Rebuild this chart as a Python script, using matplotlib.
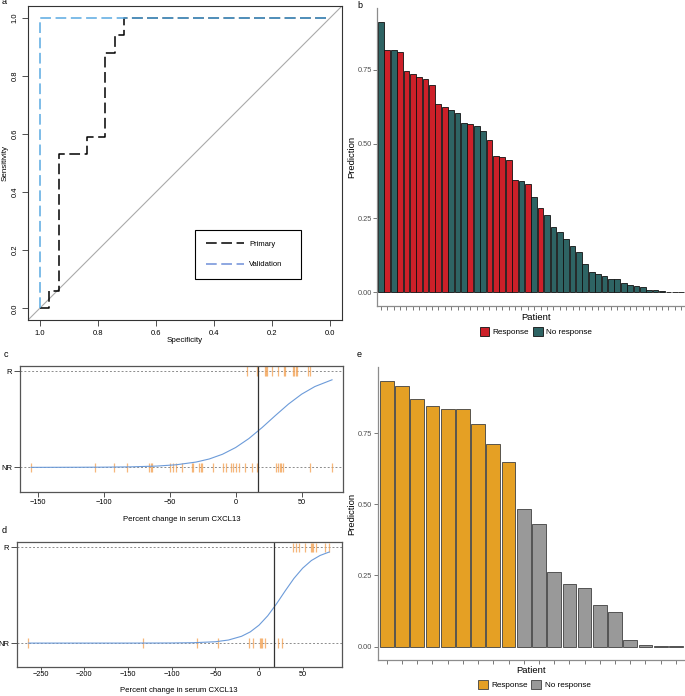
import numpy as np
import matplotlib
matplotlib.use("Agg")
import matplotlib.pyplot as plt
from matplotlib.lines import Line2D
from matplotlib.patches import Patch

plt.rcParams['font.family'] = ['Liberation Sans', 'DejaVu Sans']

# ---- panel a: ROC (specificity, sensitivity) ----
PRIMARY_SPEC = [1.0, 0.968, 0.935, 0.838, 0.774, 0.742, 0.709, 0.0]
PRIMARY_SENS = [0.0, 0.06, 0.53, 0.59, 0.88, 0.94, 1.0, 1.0]
VALID_SPEC = [1.0, 1.0, 0.0]
VALID_SENS = [0.0, 1.0, 1.0]

# ---- panel b: predictions, primary cohort (1 = response) ----
B_PRED = [0.912, 0.817, 0.815, 0.808, 0.747, 0.734, 0.727, 0.718, 0.698, 0.634,
          0.625, 0.615, 0.604, 0.571, 0.568, 0.562, 0.545, 0.513, 0.460, 0.456,
          0.447, 0.378, 0.374, 0.366, 0.322, 0.283, 0.262, 0.222, 0.203, 0.180,
          0.156, 0.137, 0.096, 0.069, 0.063, 0.057, 0.047, 0.044, 0.032, 0.026,
          0.023, 0.019, 0.010, 0.009, 0.005, 0.003, 0.002, 0.001]
B_RESP = [0, 1, 0, 1, 1, 1, 1, 1, 1, 1,
          1, 0, 0, 0, 1, 0, 0, 1, 1, 1,
          1, 1, 0, 1, 0, 1, 0, 0, 0, 0,
          0, 0, 0, 0, 0, 0, 0, 0, 0, 0,
          0, 0, 0, 0, 0, 0, 0, 0]

# ---- panel c: percent change, primary cohort ----
C_R = [8.8, 16.2, 22.5, 23.2, 24.0, 27.8, 32.1, 36.9, 37.4, 43.2, 44.5, 45.7, 46.7, 55.1, 56.1]
C_NR = [-155.3, -106.3, -92.2, -82.1, -65.4, -64.4, -63.4, -50.0, -47.5, -45.0, -40.4,
        -33.1, -32.3, -27.8, -26.5, -25.3, -17.2, -9.6, -7.1, -3.8, -2.0, 0.5, 2.5,
        6.8, 12.4, 16.4, 30.8, 32.1, 33.3, 34.6, 35.9, 56.1, 73.2]
C_FIT_X = [-155, -120, -100, -80, -60, -45, -30, -20, -10, 0, 10, 20, 30, 40, 50, 60, 73]
C_FIT_P = [0.000, 0.001, 0.002, 0.005, 0.013, 0.027, 0.055, 0.087, 0.136, 0.206,
           0.299, 0.413, 0.537, 0.657, 0.760, 0.839, 0.909]
C_CUT = 17

# ---- panel d: percent change, validation cohort ----
D_R = [39.3, 42.0, 45.8, 53.0, 59.2, 60.3, 61.5, 65.3, 75.6, 80.2]
D_NR = [-264.1, -133.2, -70.6, -46.6, -11.1, -6.5, 1.1, 2.3, 3.4, 6.9, 22.1, 26.0]
D_FIT_X = [-264, -200, -150, -100, -75, -50, -35, -20, -10, 0, 10, 20, 30, 40, 50, 60, 70, 80.5]
D_FIT_P = [0.000, 0.000, 0.000, 0.001, 0.004, 0.014, 0.032, 0.071, 0.117, 0.187,
           0.285, 0.409, 0.545, 0.675, 0.782, 0.862, 0.915, 0.951]
D_CUT = 17

# ---- panel e: predictions, validation cohort ----
E_PRED = [0.934, 0.916, 0.870, 0.845, 0.836, 0.836, 0.781, 0.712, 0.649, 0.483,
          0.431, 0.261, 0.221, 0.207, 0.148, 0.122, 0.022, 0.007, 0.002, 0.001]
E_RESP = [1, 1, 1, 1, 1, 1, 1, 1, 1, 0,
          0, 0, 0, 0, 0, 0, 0, 0, 0, 0]

fig = plt.figure(figsize=(6.85, 6.96), dpi=100)

# ================= a =================
ax = fig.add_axes([0.0409, 0.5402, 0.4584, 0.4512])
ax.axline((1, 0), (0, 1), color='#AAAAAA', lw=0.8)
ax.plot(PRIMARY_SPEC, PRIMARY_SENS, drawstyle='steps-post', color='black', lw=1.1, dashes=(7, 3))
ax.plot(VALID_SPEC, VALID_SENS, color='#5AAAE2', lw=1.1, dashes=(7, 3))
ax.set_xlim(1.04, -0.04)
ax.set_ylim(-0.04, 1.04)
ticks = [0.0, 0.2, 0.4, 0.6, 0.8, 1.0]
ax.set_xticks(ticks)
ax.set_xticklabels([f"{t:.1f}" for t in ticks])
ax.set_yticks(ticks)
ax.set_yticklabels([f"{t:.1f}" for t in ticks], rotation=90, va='center')
ax.tick_params(length=4, width=0.6, labelsize=5.5, pad=3, color='#333333')
for s in ax.spines.values():
    s.set_color('#333333')
    s.set_linewidth(0.8)
ax.set_xlabel('Specificity', fontsize=5.8)
ax.xaxis.set_label_coords(0.5, -0.055)
ax.set_ylabel('Sensitivity', fontsize=5.8)
ax.yaxis.set_label_coords(-0.062, 0.5)
handles = [Line2D([], [], color='black', lw=1.1, dashes=(7, 3)),
           Line2D([], [], color='#6F8FD8', lw=1.1, dashes=(7, 3))]
leg = ax.legend(handles, ['Primary', 'Validation'], loc='upper left',
                bbox_to_anchor=(0.532, 0.137, 0.336, 0.15), mode='expand',
                fontsize=5.5, fancybox=False, edgecolor='black', framealpha=1,
                handlelength=5, handletextpad=0.7, labelspacing=1.7,
                borderpad=1.4, borderaxespad=0)
leg.get_frame().set_linewidth(0.8)


def prediction_bars(ax, pred, resp, c_yes, c_no, edge):
    n = len(pred)
    x = np.arange(1, n + 1)
    colors = [c_yes if r else c_no for r in resp]
    ax.bar(x, pred, width=0.9, color=colors, edgecolor=edge, linewidth=0.6)
    ax.set_xlim(0.4, n + 0.6)
    top = max(pred)
    ax.set_ylim(-0.05 * top, 1.05 * top)
    ax.set_xticks(x)
    ax.set_xticklabels([])
    ax.set_yticks([0, 0.25, 0.5, 0.75])
    ax.set_yticklabels(['0.00', '0.25', '0.50', '0.75'])
    ax.tick_params(length=3, width=0.5, color='#444444', labelsize=5.3,
                   labelcolor='#4D4D4D', pad=0.8)
    for s in ['top', 'right']:
        ax.spines[s].set_visible(False)
    for s in ['left', 'bottom']:
        ax.spines[s].set_color('#8C8C8C')
        ax.spines[s].set_linewidth(0.9)
    ax.set_xlabel('Patient', fontsize=6.8)
    ax.set_ylabel('Prediction', fontsize=6.8)
    handles = [Patch(facecolor=c_yes, edgecolor=edge, linewidth=0.6),
               Patch(facecolor=c_no, edgecolor=edge, linewidth=0.6)]
    return handles


# ================= b =================
ax = fig.add_axes([0.5504, 0.5603, 0.4496, 0.4282])
h = prediction_bars(ax, B_PRED, B_RESP, '#CD2029', '#2E6464', '#111111')
ax.xaxis.set_label_coords(0.516, -0.024)
ax.yaxis.set_label_coords(-0.068, 0.5)
ax.legend(h, ['Response', 'No response'], loc='center', bbox_to_anchor=(0.516, -0.087),
          ncol=2, frameon=False, fontsize=5.9, handlelength=1.2, handleheight=1.2,
          handletextpad=0.4, columnspacing=0.5, borderaxespad=0, borderpad=0)

# ================= e =================
ax = fig.add_axes([0.5514, 0.0517, 0.4486, 0.4206])
h = prediction_bars(ax, E_PRED, E_RESP, '#E5A024', '#999999', '#404040')
ax.xaxis.set_label_coords(0.5, -0.022)
ax.yaxis.set_label_coords(-0.071, 0.5)
ax.legend(h, ['Response', 'No response'], loc='center', bbox_to_anchor=(0.509, -0.085),
          ncol=2, frameon=False, fontsize=5.9, handlelength=1.2, handleheight=1.2,
          handletextpad=0.4, columnspacing=0.5, borderaxespad=0, borderpad=0)


def cxcl_panel(ax, r, nr, fx, fp, cut, xlim, xticks, tick_len, tick_pad):
    for yv in (0, 1):
        ax.axhline(yv, color='#8C8C8C', lw=0.7, ls=(0, (2, 2)))
    ax.vlines(nr, -0.05, 0.05, color='#F4A55A', lw=0.9, alpha=0.8)
    ax.vlines(r, 0.95, 1.05, color='#F4A55A', lw=0.9, alpha=0.8)
    ax.plot(fx, fp, color='#6C9BD9', lw=0.8)
    ax.axvline(cut, color='#333333', lw=0.9)
    ax.set_xlim(*xlim)
    ax.set_ylim(-0.253, 1.052)
    ax.set_yticks([0, 1])
    ax.set_yticklabels(['NR', 'R'])
    ax.set_xticks(xticks)
    ax.set_xticklabels([str(t).replace('-', '\u2212') for t in xticks])
    ax.tick_params(axis='y', length=4.5, width=0.6, labelsize=5.5, pad=1, color='#333333')
    ax.tick_params(axis='x', length=tick_len, width=0.6, labelsize=5.3, pad=tick_pad, color='#333333')
    for s in ax.spines.values():
        s.set_color('#555555')
        s.set_linewidth(0.9)
    ax.set_xlabel('Percent change in serum CXCL13', fontsize=5.6)


# ================= c =================
ax = fig.add_axes([0.0292, 0.2935, 0.4715, 0.1806])
cxcl_panel(ax, C_R, C_NR, C_FIT_X, C_FIT_P, C_CUT, (-163.4, 81.3),
           [-150, -100, -50, 0, 50], 3.5, 2)
ax.xaxis.set_label_coords(0.5, -0.197)

# ================= d =================
ax = fig.add_axes([0.0244, 0.0412, 0.4744, 0.1796])
cxcl_panel(ax, D_R, D_NR, D_FIT_X, D_FIT_P, D_CUT, (-277.5, 94.7),
           [-250, -200, -150, -100, -50, 0, 50], 2, 0.3)
ax.xaxis.set_label_coords(0.5, -0.154)

# panel letters
for x, y, s in [(2, 3.5, 'a'), (357, 8, 'b'), (3.3, 357.3, 'c'), (1.7, 533.3, 'd'), (356.7, 357.3, 'e')]:
    fig.text(x / 685, 1 - y / 696, s, fontsize=6.5, va='baseline', ha='left')

fig.savefig('out.png', dpi=100)
